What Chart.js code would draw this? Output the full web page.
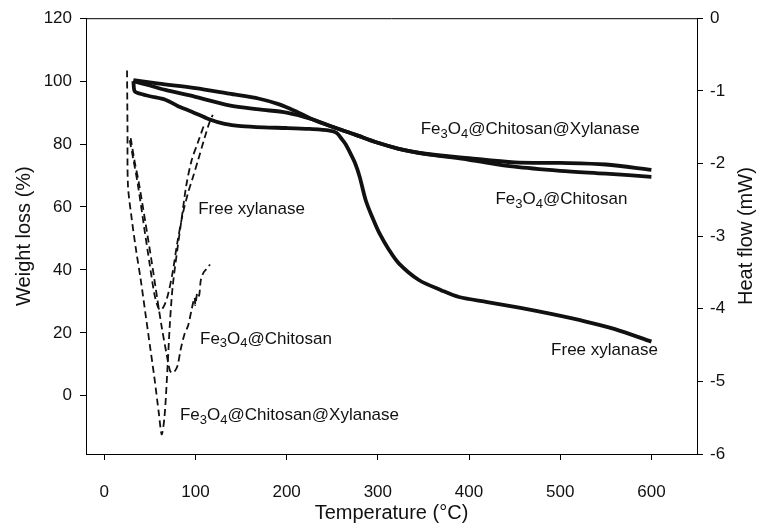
<!DOCTYPE html>
<html>
<head>
<meta charset="utf-8">
<script src="https://cdn.jsdelivr.net/npm/chart.js@4"></script>
<style>
  html, body { margin: 0; padding: 0; background: #fff; }
</style>
</head>
<body>
<canvas id="tga" width="763" height="527"></canvas>
<script>
// tick labels
const tempTicks = [0, 100, 200, 300, 400, 500, 600];
const weightTicks = [0, 20, 40, 60, 80, 100, 120];
const heatTicks = [0, -1, -2, -3, -4, -5, -6];

// TGA, weight loss (%) - left axis
const freeTgaT = [32, 33, 36, 50, 67, 80, 96, 115, 132, 150, 175, 200, 225, 247, 255, 261, 265, 269, 275, 280, 287, 295, 302, 312, 323, 345, 370, 389, 420, 455, 490, 528, 560, 600];
const freeTgaW = [100, 97, 96.3, 95.2, 94.1, 92.2, 90.3, 87.9, 86.4, 85.7, 85.3, 85.1, 84.8, 84.3, 83.5, 81.4, 79.8, 77.6, 74, 69.7, 61.9, 56, 51.5, 46.5, 42.1, 36.8, 33.5, 31.4, 29.8, 28, 26, 23.6, 21.2, 17.2];

const chitTgaT = [32, 50, 67, 100, 137, 170, 200, 228, 250, 275, 300, 323, 350, 400, 450, 500, 550, 600];
const chitTgaW = [100, 98.6, 97.2, 95, 92.3, 91, 90, 87.9, 85.5, 83, 80.4, 78.5, 77, 75, 72.8, 71.5, 70.6, 69.6];

const xylTgaT = [32, 60, 100, 137, 170, 192, 210, 228, 250, 275, 300, 323, 350, 400, 450, 500, 550, 600];
const xylTgaW = [100.3, 99.2, 97.8, 96, 94.4, 92.6, 90.4, 87.9, 85.5, 83, 80.4, 78.5, 77, 75.5, 74.2, 74, 73.5, 71.8];

// DSC, heat flow (mW) - right axis
const freeDscT = [28, 32, 37, 44, 50, 55, 59, 62, 66, 70, 75, 80, 86, 92, 97, 103, 110, 115, 119];
const freeDscH = [-1.68, -1.95, -2.3, -2.9, -3.4, -3.8, -3.98, -4.02, -3.95, -3.8, -3.5, -3.1, -2.7, -2.4, -2.2, -1.95, -1.65, -1.45, -1.33];

const chitDscT = [29, 33, 38, 45, 52, 58, 63, 68, 72, 74, 76, 80, 84, 88, 92, 96, 99, 100, 102, 104, 106, 109, 113, 116];
const chitDscH = [-1.65, -1.95, -2.27, -2.8, -3.35, -3.85, -4.25, -4.6, -4.85, -4.88, -4.88, -4.8, -4.55, -4.35, -4.23, -4.0, -3.85, -3.95, -3.78, -3.82, -3.6, -3.5, -3.44, -3.39];

const xylDscT = [25, 25.5, 26, 30, 35, 40, 45, 50, 55, 60, 63, 66, 69, 72, 75, 80, 85, 90, 96, 103, 110];
const xylDscH = [-0.72, -1.5, -2.3, -2.75, -3.2, -3.6, -4.05, -4.5, -4.95, -5.45, -5.73, -5.5, -4.9, -4.2, -3.7, -3.2, -2.75, -2.3, -1.95, -1.7, -1.45];

function pts(xs, ys) {
  return xs.map((x, i) => ({ x: x, y: ys[i] }));
}

const INK = "#111";
const FONT = "'Liberation Sans', Arial, sans-serif";

function solid(xs, ys) {
  return {
    data: pts(xs, ys), yAxisID: "yW", borderColor: INK, borderWidth: 3.8,
    pointRadius: 0, tension: 0.3, fill: false,
  };
}
function dashed(xs, ys) {
  return {
    data: pts(xs, ys), yAxisID: "yH", borderColor: INK, borderWidth: 1.8,
    borderDash: [7, 4], pointRadius: 0, tension: 0.3, fill: false,
  };
}

// curve labels, placed in (temperature, weight) units
const curveLabels = [
  ["Fe3O4@Chitosan@Xylanase", 347, 84.7],
  ["Fe3O4@Chitosan", 429, 62.3],
  ["Free xylanase", 490, 14.3],
  ["Free xylanase", 103, 59.4],
  ["Fe3O4@Chitosan", 105, 18.1],
  ["Fe3O4@Chitosan@Xylanase", 83, -6.2],
];

function drawChem(ctx, text, x, y) {
  const parts = text.split(/(\d)/);
  let cx = x;
  parts.forEach(function (p) {
    if (!p) return;
    const sub = /^\d$/.test(p);
    ctx.font = (sub ? "13px " : "17px ") + FONT;
    ctx.fillText(p, cx, sub ? y + 5 : y);
    cx += ctx.measureText(p).width;
  });
}

const decor = {
  id: "decor",
  afterDatasetsDraw(chart) {
    const ctx = chart.ctx;
    const a = chart.chartArea;
    const xs = chart.scales.x, ys = chart.scales.yW;
    ctx.save();
    // top border of the frame
    ctx.strokeStyle = "#000";
    ctx.lineWidth = 1;
    ctx.beginPath();
    ctx.moveTo(a.left, a.top + 0.5);
    ctx.lineTo(a.right, a.top + 0.5);
    ctx.stroke();

    ctx.fillStyle = INK;
    ctx.textBaseline = "middle";
    ctx.textAlign = "left";
    curveLabels.forEach(function (l) {
      drawChem(ctx, l[0], xs.getPixelForValue(l[1]), ys.getPixelForValue(l[2]));
    });

    // axis titles
    ctx.font = "20px " + FONT;
    ctx.textAlign = "center";
    ctx.fillText("Temperature (°C)", (a.left + a.right) / 2, 513);
    ctx.translate(24, (a.top + a.bottom) / 2);
    ctx.rotate(-Math.PI / 2);
    ctx.fillText("Weight loss (%)", 0, 0);
    ctx.restore();
    ctx.save();
    ctx.fillStyle = INK;
    ctx.font = "20px " + FONT;
    ctx.textAlign = "center";
    ctx.textBaseline = "middle";
    ctx.translate(746, (a.top + a.bottom) / 2);
    ctx.rotate(-Math.PI / 2);
    ctx.fillText("Heat flow (mW)", 0, 0);
    ctx.restore();
  },
};

const tickGrid = { drawOnChartArea: false, drawTicks: true, tickLength: 6, color: "#000", lineWidth: 1 };
const axisBorder = { display: true, color: "#000", width: 1 };
const tickFont = { size: 17, family: FONT };

new Chart(document.getElementById("tga"), {
  type: "line",
  data: {
    datasets: [
      solid(freeTgaT, freeTgaW),
      solid(chitTgaT, chitTgaW),
      solid(xylTgaT, xylTgaW),
      dashed(freeDscT, freeDscH),
      dashed(chitDscT, chitDscH),
      dashed(xylDscT, xylDscH),
    ],
  },
  options: {
    responsive: false,
    animation: false,
    devicePixelRatio: 1,
    layout: { padding: { top: 15, left: 0, right: 0, bottom: 0 } },
    plugins: { legend: { display: false }, tooltip: { enabled: false } },
    scales: {
      x: {
        type: "linear", min: -20, max: 650,
        afterBuildTicks: (s) => { s.ticks = tempTicks.map((v) => ({ value: v })); },
        afterFit: (s) => { s.height = 73; },
        grid: tickGrid, border: axisBorder,
        ticks: { font: tickFont, color: INK, padding: 22, maxRotation: 0 },
      },
      yW: {
        type: "linear", position: "left", min: -18.5, max: 120,
        afterBuildTicks: (s) => { s.ticks = weightTicks.map((v) => ({ value: v })); },
        afterFit: (s) => { s.width = 86; },
        grid: tickGrid, border: axisBorder,
        ticks: { font: tickFont, color: INK, padding: 8 },
      },
      yH: {
        type: "linear", position: "right", min: -6, max: 0,
        afterBuildTicks: (s) => { s.ticks = heatTicks.map((v) => ({ value: v })); },
        afterFit: (s) => { s.width = 66; },
        grid: tickGrid, border: axisBorder,
        ticks: { font: tickFont, color: INK, padding: 7 },
      },
    },
  },
  plugins: [decor],
});
</script>
</body>
</html>
